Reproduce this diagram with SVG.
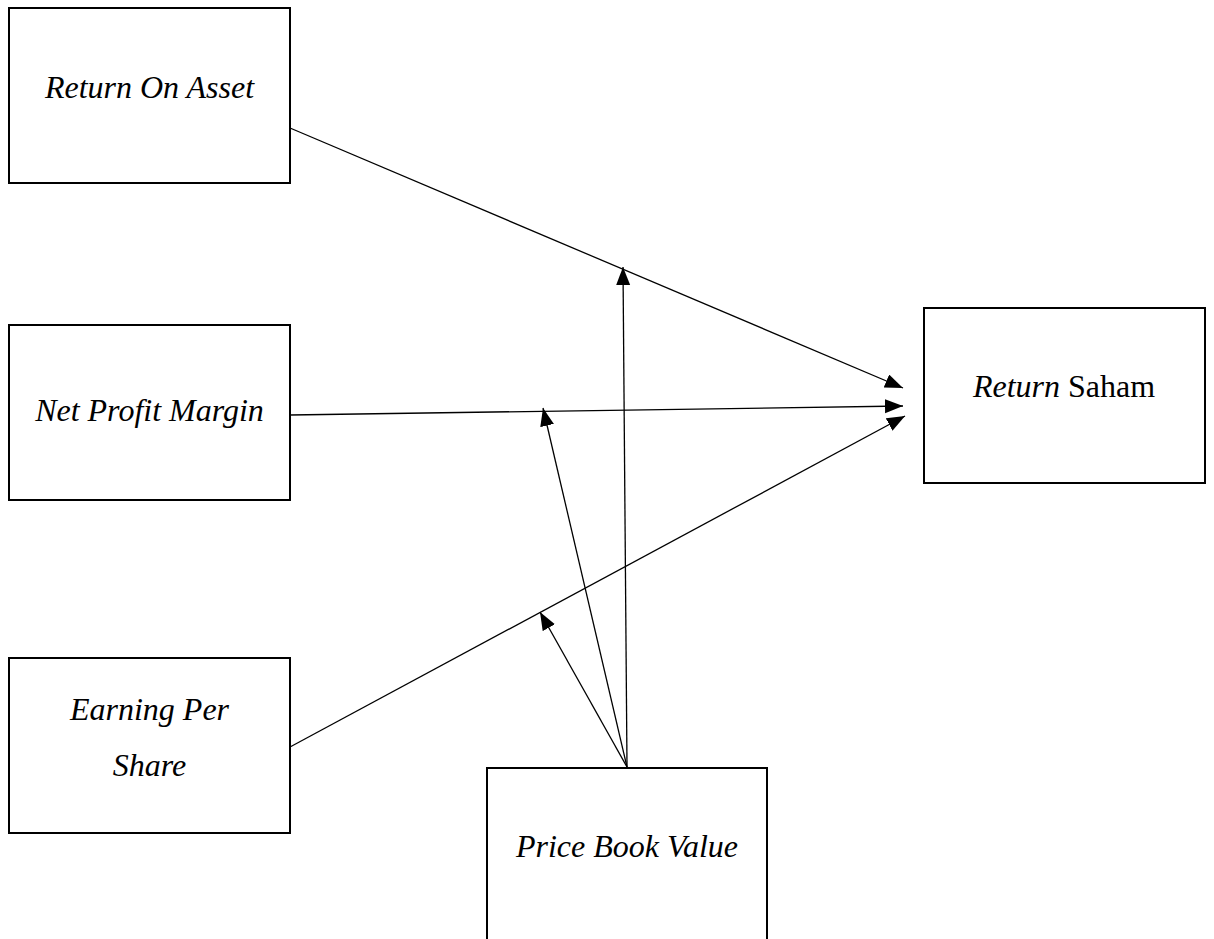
<svg xmlns="http://www.w3.org/2000/svg" width="1214" height="939" viewBox="0 0 1214 939">
<style>
.box{fill:#fff;stroke:#000;stroke-width:2}
.t{font-family:"Liberation Serif","Times New Roman",serif;font-size:32px;fill:#000;text-anchor:middle}
.i{font-style:italic}
.c{stroke:#000;stroke-width:1.3;fill:none;marker-end:url(#ah)}
</style>
<defs>
<marker id="ah" markerUnits="userSpaceOnUse" markerWidth="20" markerHeight="16" refX="18" refY="7" orient="auto">
<path d="M0,0 L18,7 L0,14 Z" fill="#000"/>
</marker>
</defs>
<rect width="1214" height="939" fill="#fff"/>
<g id="connectors">
<line class="c" x1="290" y1="128" x2="903" y2="388"/>
<line class="c" x1="290" y1="415" x2="903" y2="406"/>
<line class="c" x1="290" y1="747" x2="905" y2="416"/>
<line class="c" x1="627" y1="767" x2="623" y2="267"/>
<line class="c" x1="627" y1="767" x2="543" y2="408"/>
<line class="c" x1="627" y1="767" x2="540" y2="612"/>
</g>
<g id="roa">
<rect class="box" x="9" y="8" width="281" height="175"/>
<text class="t i" x="149.5" y="98">Return On Asset</text>
</g>
<g id="npm">
<rect class="box" x="9" y="325" width="281" height="175"/>
<text class="t i" x="149.5" y="421">Net Profit Margin</text>
</g>
<g id="eps">
<rect class="box" x="9" y="658" width="281" height="175"/>
<text class="t i" x="149.5" y="720">Earning Per</text>
<text class="t i" x="149.5" y="776">Share</text>
</g>
<g id="rs">
<rect class="box" x="924" y="308" width="281" height="175"/>
<text class="t" x="1064" y="397"><tspan class="i">Return</tspan> Saham</text>
</g>
<g id="pbv">
<rect class="box" x="487" y="768" width="280" height="190"/>
<text class="t i" x="627" y="857">Price Book Value</text>
</g>
</svg>
